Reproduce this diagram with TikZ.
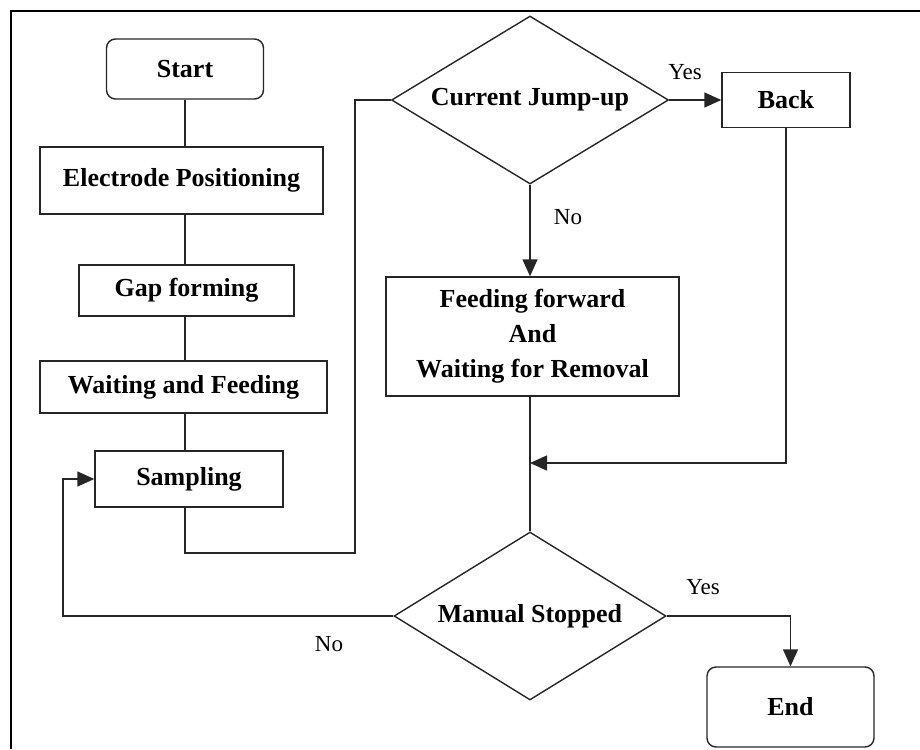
\documentclass[tikz,border=0pt]{standalone}
\usepackage{fontspec}
\setmainfont{Liberation Serif}
\usetikzlibrary{shapes.geometric,arrows.meta,calc}
\begin{document}
\begin{tikzpicture}[x=1pt,y=-1pt,
  line width=1.3pt,
  base/.style={draw=black!85,line width=1.4pt,inner sep=0pt,font=\fontsize{26}{35}\selectfont\bfseries,align=center},
  procbox/.style={base,rectangle},
  termbox/.style={base,rectangle,rounded corners=9pt},
  decbox/.style={base,diamond,aspect=1.65},
  lbl/.style={font=\fontsize{23}{28}\selectfont,inner sep=0pt},
  conn/.style={draw=black!85,line width=1.4pt},
  arr/.style={conn,-{Triangle[length=17pt,width=15pt]}}
]
\useasboundingbox (0,0) rectangle (920,749);
\draw[line width=2.5pt] (920,11) -- (11,11) -- (11,749);

\node[termbox,minimum width=157pt,minimum height=60pt] (start) at (185,69) {Start};
\node[procbox,minimum width=283pt,minimum height=67pt] (elec) at (181.5,180.5) {Electrode Positioning};
\node[procbox,minimum width=215pt,minimum height=51pt] (gap) at (186.5,290.5) {Gap forming};
\node[procbox,minimum width=287pt,minimum height=52pt] (wait) at (183.5,387) {Waiting and Feeding};
\node[procbox,minimum width=188pt,minimum height=56pt] (samp) at (189,479) {Sampling};
\node[decbox,minimum width=277pt,minimum height=168pt] (cj) at (530,100) {Current Jump-up};
\node[procbox,minimum width=128pt,minimum height=55pt] (back) at (786,100) {Back};
\node[procbox,minimum width=293pt,minimum height=119pt] (feed) at (532.5,336.5) {Feeding forward\\And\\Waiting for Removal};
\node[decbox,minimum width=272pt,minimum height=168pt] (ms) at (530,616) {Manual Stopped};
\node[termbox,minimum width=167pt,minimum height=80pt] (endn) at (790.5,707) {End};

\coordinate (c1) at (355,553);
\coordinate (m1) at (530,463);
\coordinate (lp) at (63,479);

\draw[conn] (start.south) -- (start.south |- elec.north);
\draw[conn] (start.south |- elec.south) -- (start.south |- gap.north);
\draw[conn] (start.south |- gap.south) -- (start.south |- wait.north);
\draw[conn] (start.south |- wait.south) -- (start.south |- samp.north);
\draw[conn] (start.south |- samp.south) |- (c1) |- (cj.west);
\draw[arr] (cj.east) -- (back.west);
\draw[arr] (cj.south) -- (cj.south |- feed.north);
\draw[conn] (cj.south |- feed.south) -- (ms.north);
\draw[arr] (back.south) |- (m1);
\draw[arr] (ms.east) -| (endn.north);
\draw[arr] (ms.west) -| (lp) -- (samp.west);

\node[lbl] (yes1) at (685,72) {Yes};
\node[lbl] (no1) at (568,217) {No};
\node[lbl] (yes2) at (703,587) {Yes};
\node[lbl] (no2) at (329,644) {No};
\end{tikzpicture}
\end{document}
